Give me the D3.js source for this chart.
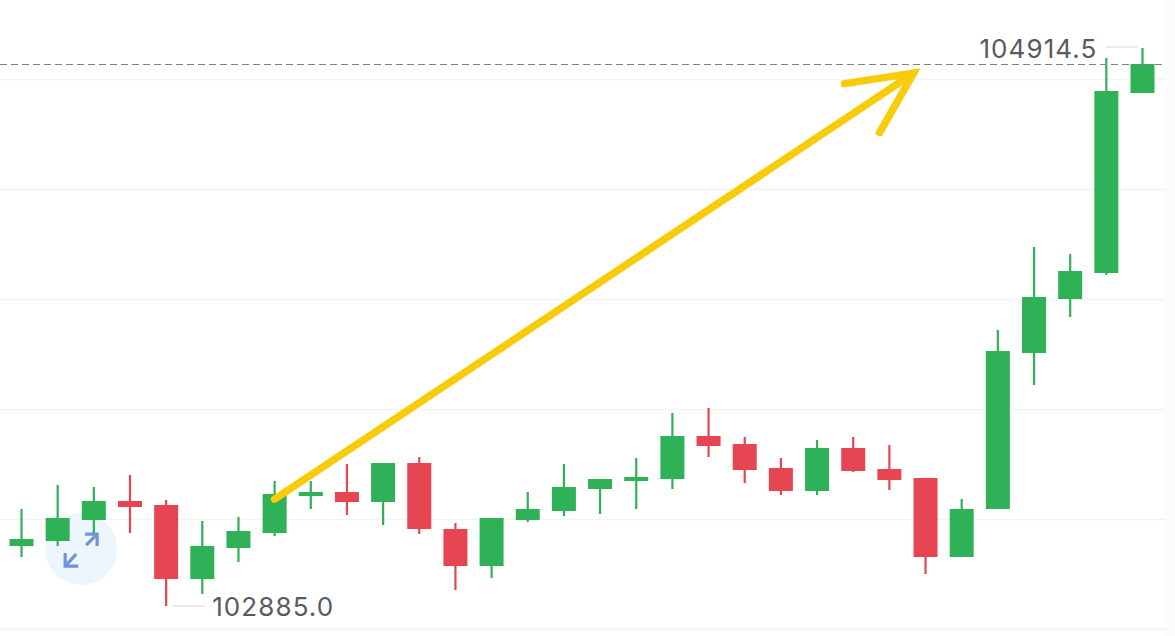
<!DOCTYPE html>
<html><head><meta charset="utf-8">
<script src="https://cdn.jsdelivr.net/npm/d3@7"></script>
<style>html,body{margin:0;padding:0;background:#fff;overflow:hidden}svg{display:block}</style>
</head><body><svg id="c" width="1175" height="636"></svg>
<script>
const opens  = [103103.2,103121.4,103197.8,103266.9,103252.3,102983.2,103095.9,103150.5,103285,103299.6,103263.2,103405,103165,103030.5,103197.8,103230.5,103310.5,103339.6,103346.9,103503.3,103474.2,103386.9,103303.3,103459.6,103383.3,103350.5,103063.2,103237.8,103805.2,104001.6,104096.1,104750.8];
const closes = [103128.7,103205,103266.9,103245,102983.2,103103.2,103157.8,103292.3,103299.6,103263.2,103405,103165,103030.5,103205,103237.8,103317.8,103346.9,103354.2,103503.3,103466.9,103379.6,103303.3,103459.6,103376,103343.3,103063.2,103237.8,103812.4,104008.8,104103.4,104758.1,104856.3];
const highs  = [103237.8,103325.1,103317.8,103361.4,103270.5,103194.1,103208.7,103339.6,103339.6,103401.5,103405,103426.9,103186.9,103205,103299.6,103401.5,103346.9,103423.3,103586.9,103605.1,103499.7,103423.3,103488.7,103499.7,103470.6,103350.5,103274.2,103888.8,104190.7,104165.2,104878.1,104914.5];
const lows   = [103063.2,103103.2,103150.5,103150.5,102885,102928.6,103045,103139.6,103237.8,103216,103179.6,103146.9,102943.2,102986.8,103190.5,103212.3,103219.6,103237.8,103310.5,103426.9,103332.4,103288.7,103288.7,103372.4,103306.9,103001.4,103063.2,103237.8,103688.8,103936.1,104088.8,104750.8];
const gridPrices = [102800,103200,103600,104000,104400,104800];
const lastPrice = 104856.3;
const maxLabel = "104914.5", minLabel = "102885.0";
const arrowFrom = [7.0,103274], arrowTo = [24.67,104823];
const arrowBarbA = [22.76,104785], arrowBarbB = [23.73,104607];

const GREEN="#2fb157", RED="#e64552";
const svg=d3.select("#c");
const x=d3.scaleLinear().domain([0,31]).range([21.5,1142.5]);
const y=d3.scaleLinear().domain([102885,104914.5]).range([606,48]);

svg.append("rect").attr("x",1165).attr("y",0).attr("width",10).attr("height",636).attr("fill","#fbfcfc");

svg.selectAll("line.grid").data(gridPrices).join("line").attr("class","grid")
  .attr("x1",0).attr("x2",1165).attr("y1",d=>y(d)).attr("y2",d=>y(d))
  .attr("stroke","#f1f3f5").attr("stroke-width",1.5);

// zoom badge
const badge=svg.append("g").attr("transform",`translate(${x(1.65)},${y(103092)})`);
badge.append("circle").attr("r",36).attr("fill","#edf5fd");
badge.append("path").attr("d","M4,-15L16,-15L16,-3M5,-4L16,-15M-16,4L-16,17L-3,17M-5,5L-16,17")
  .attr("fill","none").attr("stroke","#6f95d6").attr("stroke-width",3.2);

const idx=d3.range(opens.length);
const col=i=>closes[i]>=opens[i]?GREEN:RED;
const g=svg.append("g");
g.selectAll("line.wick").data(idx).join("line").attr("class","wick")
  .attr("x1",i=>x(i)).attr("x2",i=>x(i)).attr("y1",i=>y(highs[i])).attr("y2",i=>y(lows[i]))
  .attr("stroke",col).attr("stroke-width",2.2);
g.selectAll("rect.body").data(idx).join("rect").attr("class","body")
  .attr("x",i=>x(i)-12).attr("width",24)
  .attr("y",i=>y(Math.max(opens[i],closes[i])))
  .attr("height",i=>Math.abs(y(opens[i])-y(closes[i])))
  .attr("fill",col);

// last price line
svg.append("line").attr("x1",0).attr("x2",1165).attr("y1",Math.round(y(lastPrice))+0.5).attr("y2",Math.round(y(lastPrice))+0.5)
  .attr("stroke","#7c8087").attr("stroke-width",1.2).attr("stroke-dasharray","7 4");

// extreme labels
const iMax=highs.indexOf(d3.max(highs)), iMin=lows.indexOf(d3.min(lows));
svg.append("line").attr("x1",x(iMin)+7).attr("x2",x(iMin)+39).attr("y1",y(lows[iMin])).attr("y2",y(lows[iMin])).attr("stroke","#d6d8da").attr("stroke-width",1.2);
svg.append("line").attr("x1",x(iMax)-37).attr("x2",x(iMax)-5).attr("y1",y(highs[iMax])-1).attr("y2",y(highs[iMax])-1).attr("stroke","#d6d8da").attr("stroke-width",1.2);
const labelStyle=s=>s.attr("font-family","Inter, Roboto, sans-serif").attr("font-size",26).attr("letter-spacing",1.1).attr("fill","#565a63");
svg.append("text").attr("x",x(iMin)+46).attr("y",y(lows[iMin])+10).text(minLabel).call(labelStyle);
svg.append("text").attr("x",x(iMax)-45).attr("y",y(highs[iMax])+10).attr("text-anchor","end").text(maxLabel).call(labelStyle);

// yellow arrow
const pt=p=>[x(p[0]),y(p[1])];
const line=d3.line();
[[arrowFrom,arrowTo],[arrowBarbA,arrowTo,arrowBarbB]].forEach(pts=>{
  svg.append("path").attr("d",line(pts.map(pt))).attr("fill","none")
    .attr("stroke","#f9cc0b").attr("stroke-width",7.5).attr("stroke-linecap","round").attr("stroke-linejoin","miter");
});
</script></body></html>
